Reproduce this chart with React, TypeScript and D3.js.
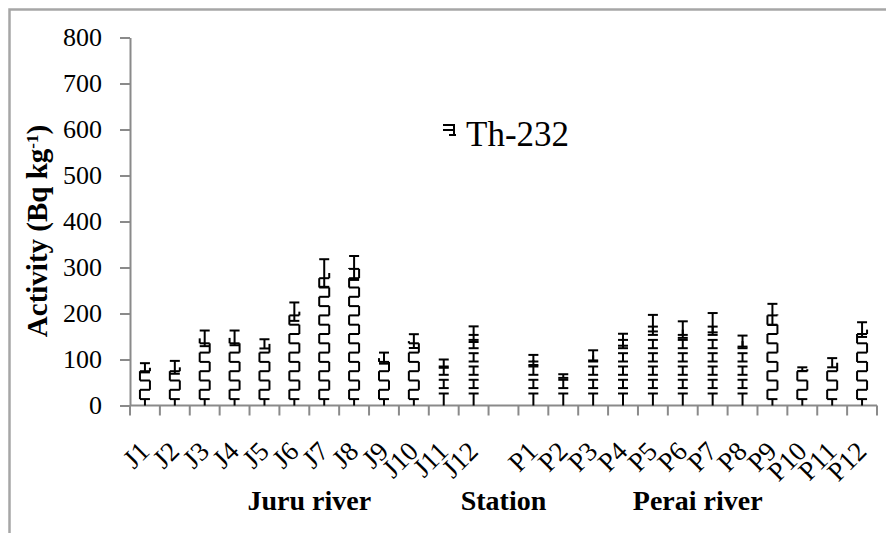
import React from "react";
import * as d3 from "d3";

// Th-232 activity per sampling station (Bq/kg)
const juruStations = ["J1", "J2", "J3", "J4", "J5", "J6", "J7", "J8", "J9", "J10", "J11", "J12"];
const juruValues = [82, 83, 146, 147, 134, 204, 288, 299, 103, 140, 91, 155];
const juruErrors = [10, 14, 17, 16, 10, 20, 30, 26, 12, 15, 9, 17];

const peraiStations = ["P1", "P2", "P3", "P4", "P5", "P6", "P7", "P8", "P9", "P10", "P11", "P12"];
const peraiValues = [99, 64, 109, 143, 179, 165, 180, 140, 198, 79, 93, 165];
const peraiErrors = [11, 4, 11, 13, 18, 18, 21, 12, 23, 4, 10, 16];

const yTicks = [0, 100, 200, 300, 400, 500, 600, 700, 800];
const groupNames = ["Juru river", "Station", "Perai river"];
const seriesName = "Th-232";

const GAP = "__gap";
const categories = [...juruStations, GAP, ...peraiStations];

type Row = { key: string; value: number; err: number };
const rows: Row[] = [
  ...juruStations.map((k, i) => ({ key: k, value: juruValues[i], err: juruErrors[i] })),
  ...peraiStations.map((k, i) => ({ key: k, value: peraiValues[i], err: peraiErrors[i] })),
];

const W = 886;
const H = 533;
const AXIS = "#8a8a8a";
const serif = "'Liberation Serif', 'Times New Roman', serif";

const App = () => {
  const svgRef = React.useRef<SVGSVGElement>(null);

  React.useEffect(() => {
    const svg = d3.select(svgRef.current);
    svg.selectAll("*").remove();

    const x = d3.scaleBand<string>().domain(categories).range([130, 877]);
    const y = d3.scaleLinear().domain([0, 800]).range([405.5, 37.5]);
    const bw = x.bandwidth();
    const cx = (k: string) => (x(k) as number) + bw / 2;

    // outer frame (only left/top edges fall inside the picture)
    svg.append("rect")
      .attr("x", 9.5).attr("y", 9.5)
      .attr("width", W + 20).attr("height", H + 20)
      .attr("fill", "none").attr("stroke", "#a6a6a6").attr("stroke-width", 2.5);

    // Y axis
    const yAxis = svg.append("g")
      .attr("transform", "translate(130,0)")
      .call(d3.axisLeft(y).tickValues(yTicks).tickSize(10).tickSizeOuter(0).tickPadding(18));
    yAxis.select(".domain").attr("stroke", AXIS).attr("stroke-width", 2);
    yAxis.selectAll(".tick line").attr("stroke", AXIS).attr("stroke-width", 2);
    yAxis.selectAll(".tick text")
      .attr("fill", "#000")
      .style("font-family", serif)
      .style("font-size", "26px");

    svg.append("text")
      .attr("transform", `translate(47,231) rotate(-90)`)
      .attr("text-anchor", "middle")
      .style("font-family", serif).style("font-size", "29px").style("font-weight", "bold")
      .call((t) => {
        t.append("tspan").text("Activity (Bq kg");
        t.append("tspan").attr("baseline-shift", "super").style("font-size", "17px").text("-1");
        t.append("tspan").text(")");
      });

    // X axis: line plus ticks at every band boundary
    const bounds = categories.map((k) => x(k) as number).concat([x.range()[1]]);
    svg.append("line")
      .attr("x1", 130).attr("x2", 877).attr("y1", y(0)).attr("y2", y(0))
      .attr("stroke", AXIS).attr("stroke-width", 2);
    svg.append("g").selectAll("line").data(bounds).enter().append("line")
      .attr("x1", (d) => d).attr("x2", (d) => d)
      .attr("y1", y(0)).attr("y2", y(0) + 10)
      .attr("stroke", AXIS).attr("stroke-width", 2);

    svg.append("g").selectAll("text").data(rows).enter().append("text")
      .attr("transform", (d) => `translate(${cx(d.key) + 6},453) rotate(-45)`)
      .attr("text-anchor", "end")
      .style("font-family", serif).style("font-size", "27px")
      .text((d) => d.key);

    // group captions under the stations
    const juruMid = (cx(juruStations[0]) + cx(juruStations[juruStations.length - 1])) / 2;
    const peraiMid = (cx(peraiStations[0]) + cx(peraiStations[peraiStations.length - 1])) / 2;
    const groupX = [juruMid, cx(GAP), peraiMid];
    svg.append("g").selectAll("text").data(groupNames).enter().append("text")
      .attr("x", (_, i) => groupX[i]).attr("y", 510)
      .attr("text-anchor", "middle")
      .style("font-family", serif).style("font-size", "28px").style("font-weight", "bold")
      .text((d) => d);

    // bars drawn as hatched ladders (no outline, like the Excel pattern fill)
    const half = 5;
    const bars = svg.append("g").attr("stroke", "#000").attr("stroke-width", 2).attr("fill", "none");
    const seg = (x1: number, y1: number, x2: number, y2: number) =>
      bars.append("line").attr("x1", x1).attr("y1", y1).attr("x2", x2).attr("y2", y2);

    rows.forEach((d) => {
      const c = cx(d.key);
      const base = y(0);
      const top = y(d.value);
      const idx = categories.indexOf(d.key);
      // the pattern tile lines up as I-beams across the middle of the axis
      const ibeam = idx >= 10 && idx <= 20;
      if (!ibeam) {
        const step = 9.3;
        let yk = base - 6.4;
        if (yk >= top) seg(c, base, c, yk);
        let k = 0;
        while (yk >= top) {
          seg(c - half, yk, c + half, yk);
          const side = k % 2 === 0 ? c - half : c + half;
          seg(side, yk, side, Math.max(yk - step, top));
          yk -= step;
          k++;
        }
      } else {
        const tY = base - 12;
        if (tY >= top) {
          seg(c, base, c, tY);
          seg(c - half, tY, c + half, tY);
        }
        let b = base - 17.4;
        while (b >= top) {
          const t = b - 8.3;
          seg(c - half, b, c + half, b);
          seg(c, b, c, Math.max(t, top));
          if (t >= top) seg(c - half, t, c + half, t);
          b -= 13.3;
        }
      }
      // error bar
      const e1 = y(d.value + d.err);
      const e0 = y(d.value - d.err);
      seg(c, e1, c, e0);
      seg(c - half, e1, c + half, e1);
      seg(c - half, e0, c + half, e0);
    });

    // legend
    const lg = svg.append("g").attr("stroke", "#000").attr("stroke-width", 2).attr("fill", "none");
    lg.append("path").attr("d", "M443,125H454V135M443,130H454M449,135H456");
    svg.append("text")
      .attr("x", 466).attr("y", 146)
      .style("font-family", serif).style("font-size", "35px")
      .text(seriesName);
  }, []);

  return (
    <svg
      ref={svgRef}
      width={W}
      height={H}
      style={{ position: "absolute", left: 0, top: 0, background: "#fff" }}
    />
  );
};

export default App;
